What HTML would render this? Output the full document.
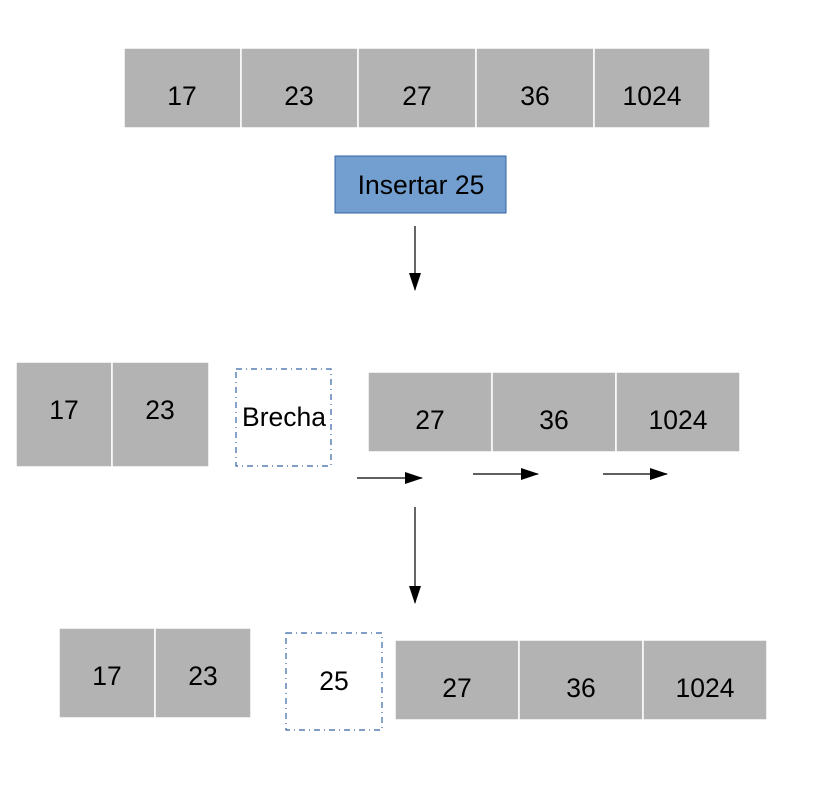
<!DOCTYPE html>
<html><head><meta charset="utf-8"><style>
html,body{margin:0;padding:0;background:#fff;}
svg{display:block;}
text{font-family:"Liberation Sans",sans-serif;font-size:26.5px;fill:#000;text-anchor:middle;}
.c{fill:#b3b3b3;stroke:#fff;stroke-width:1.5;}
.d{fill:#fff;stroke:#3465a4;stroke-width:1.2;stroke-dasharray:6 4 1 4;}
</style></head><body>
<svg width="814" height="790" viewBox="0 0 814 790" xmlns="http://www.w3.org/2000/svg">
<defs><marker id="a" markerWidth="18" markerHeight="12" refX="17" refY="6" orient="auto" markerUnits="userSpaceOnUse"><path d="M0,0 L18,6 L0,12 z" fill="#000"/></marker></defs>
<!-- row 1 -->
<rect class="c" x="124" y="48" width="117" height="80"/>
<rect class="c" x="241" y="48" width="117" height="80"/>
<rect class="c" x="358" y="48" width="118" height="80"/>
<rect class="c" x="476" y="48" width="118" height="80"/>
<rect class="c" x="594" y="48" width="116" height="80"/>
<text x="182" y="105">17</text><text x="299" y="105">23</text><text x="417" y="105">27</text><text x="535" y="105">36</text><text x="652" y="105">1024</text>
<rect x="335" y="156" width="171" height="57" fill="#729fcf" stroke="#3465a4" stroke-width="1"/>
<text x="421" y="194">Insertar 25</text>
<line x1="415" y1="226" x2="415" y2="290" stroke="#000" stroke-width="1.2" marker-end="url(#a)"/>
<!-- row 2 -->
<rect class="c" x="16" y="362" width="96" height="105"/>
<rect class="c" x="112" y="362" width="97" height="105"/>
<text x="64" y="419">17</text><text x="160" y="419">23</text>
<rect class="d" x="236" y="369" width="95" height="97"/>
<text x="284" y="426">Brecha</text>
<rect class="c" x="368" y="372" width="124" height="80"/>
<rect class="c" x="492" y="372" width="124" height="80"/>
<rect class="c" x="616" y="372" width="124" height="80"/>
<text x="430" y="429">27</text><text x="554" y="429">36</text><text x="678" y="429">1024</text>
<line x1="357" y1="478" x2="422" y2="478" stroke="#000" stroke-width="1.2" marker-end="url(#a)"/>
<line x1="473" y1="474" x2="538" y2="474" stroke="#000" stroke-width="1.2" marker-end="url(#a)"/>
<line x1="603" y1="474" x2="667" y2="474" stroke="#000" stroke-width="1.2" marker-end="url(#a)"/>
<line x1="415" y1="507" x2="415" y2="603" stroke="#000" stroke-width="1.2" marker-end="url(#a)"/>
<!-- row 3 -->
<rect class="c" x="59" y="628" width="96" height="90"/>
<rect class="c" x="155" y="628" width="96" height="90"/>
<text x="107" y="685">17</text><text x="203" y="685">23</text>
<rect class="d" x="286" y="633" width="96" height="97"/>
<text x="334" y="690">25</text>
<rect class="c" x="395" y="640" width="124" height="80"/>
<rect class="c" x="519" y="640" width="124" height="80"/>
<rect class="c" x="643" y="640" width="124" height="80"/>
<text x="457" y="697">27</text><text x="581" y="697">36</text><text x="705" y="697">1024</text>
</svg>
</body></html>
